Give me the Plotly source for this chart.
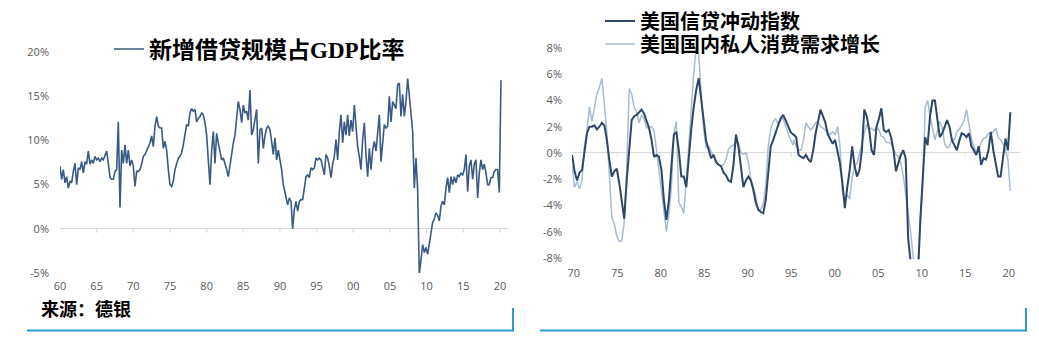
import numpy as np
import plotly.graph_objects as go

# ---------------- data: left chart (new credit / GDP, %) ----------------
credit_vals_a = [7.1, 5.6, 6.7, 5.2, 5.9, 4.6, 5.4, 5.2, 6.5, 7.4,
                 5.0, 6.9, 6.7, 7.6, 6.3, 7.6, 7.3, 8.8, 7.3, 7.8,
                 7.4, 8.2, 7.8, 8.0, 7.6, 8.0, 7.8, 8.2, 8.8, 7.4,
                 5.8, 5.6, 5.6, 6.5, 6.7, 12.1, 2.4, 8.9, 7.4, 9.5,
                 7.4, 8.9, 7.1, 7.8, 7.1, 4.8, 6.5, 6.5, 6.7, 7.3,
                 8.2, 8.4, 8.8, 9.1, 9.7, 10.5, 9.3, 11.6, 12.7, 11.6,
                 11.4, 11.4, 9.1, 9.9, 8.9, 6.7, 5.0, 4.8, 5.4, 6.7,
                 7.4, 8.0, 8.2, 8.6, 9.5, 10.8, 11.8, 11.6, 13.1, 13.6,
                 13.3, 13.5, 12.1, 12.5, 12.7, 13.1, 12.9, 12.0, 10.6, 7.8,
                 5.0, 8.8, 11.0, 7.4, 10.8, 9.7, 8.9, 7.8, 8.0, 7.4,
                 6.7, 5.9, 7.3, 8.2, 9.7, 10.6, 12.3, 14.4, 13.5, 12.0,
                 14.0, 13.1, 13.3, 12.3, 15.7, 10.6, 11.2, 12.3, 13.5, 7.4,
                 11.2, 11.4, 9.1, 10.5, 11.4, 11.6, 11.2, 9.9, 8.4, 10.3,
                 7.8, 8.9, 8.0, 6.7, 5.0]
credit_vals_b = [2.7, 3.5, 3.1, 0.0, 2.2, 3.1, 2.0, 3.1, 3.3, 3.3,
                 4.4, 5.9, 6.1, 5.8, 6.9, 6.7, 6.9, 8.0, 7.8, 8.0,
                 7.8, 7.1, 6.1, 8.4, 8.0, 7.1, 5.8, 7.3, 8.2, 10.1,
                 7.8, 11.0, 12.9, 9.7, 12.1, 10.6, 12.9, 10.5, 12.3, 11.0,
                 14.0, 11.6, 9.3, 8.2, 6.7, 10.1, 12.0, 8.4, 5.9, 9.1,
                 6.7, 8.9, 9.9, 8.8, 10.8, 12.9, 7.6, 9.9, 11.8, 11.4,
                 11.6, 15.0, 12.1, 14.4, 14.0, 13.6, 16.3, 16.5, 12.7, 15.2,
                 12.7, 14.4, 17.0, 14.6, 13.1, 11.0, 4.6, 8.0, 4.4, -5.2,
                 -3.1, -1.8, -2.7, -2.1, -2.9, -1.4, -0.5, 0.7, 1.1, 1.8,
                 1.5, 0.9, 2.6, 3.1, 2.7, 4.6, 5.8, 4.1, 5.9, 5.0,
                 5.9, 5.2, 6.1, 5.9, 6.3, 6.1, 6.7, 8.4, 4.2, 7.1,
                 7.8, 5.6, 7.3, 7.8, 3.5, 6.3, 7.8, 6.7, 7.3, 6.3,
                 5.0, 5.0, 5.8, 5.8, 6.5, 6.7, 6.7, 4.1, 16.8]
credit_years = (list(1960 + np.arange(len(credit_vals_a)) * 5 / 22)
                + list(1991.05 + np.arange(len(credit_vals_b)) * 5 / 22))
credit_vals = credit_vals_a + credit_vals_b

left_tickvals = [1960, 1965, 1970, 1975, 1980, 1985, 1990, 1995, 2000, 2005, 2010, 2015, 2020]
left_ticktext = ["60", "65", "70", "75", "80", "85", "90", "95", "00", "05", "10", "15", "20"]
left_ytickvals = [-5, 0, 5, 10, 15, 20]
left_yticktext = ["-5%", "0%", "5%", "10%", "15%", "20%"]

# ---------------- data: right chart (%, credit impulse vs consumption) ----------------
impulse_a = [-0.15, -1.4, -2.1, -1.5, -1.3, 0.2, 1.5, 2.0, 2.0, 2.1,
             1.8, 2.0, 2.3, 2.1, 1.0, -0.5, -1.8, -1.4, -1.2, -2.3,
             -3.8, -5.0, -2.1, 0.5, 2.5, 2.8, 2.9, 3.1, 3.3, 3.0,
             2.4, 1.9, 1.0, -0.3, -0.15, -0.3, -1.3, -3.6, -5.1, -3.6,
             -1.0, 1.4, 1.6, 0.2, -1.8, -1.8, -2.6, -0.3, 1.8, 3.5,
             4.8, 5.7, 4.3, 2.5, 0.9, 0.2, -0.4, -0.15, -0.7, -0.9,
             -1.0, -1.5, -1.7, -2.1, -2.2, -0.9, 1.4, 0.5, -1.0, -2.6,
             -2.1, -1.8, -2.1, -2.8, -3.8, -4.3, -4.5, -4.6, -3.6, -1.5,
             0.5, 1.0, 1.6, 2.1, 2.6, 2.9, 2.5, 2.1, 1.6, 1.4]
impulse_b = [1.4, 1.2, -0.15, -0.3, -0.4, -0.15, -0.5, -0.7, 0.2, 1.5,
             2.4, 3.3, 2.8, 2.3, 1.4, 1.0, 0.7, 1.0, 0.2, -0.8,
             -2.3, -4.2, -2.6, -1.3, 0.5, -1.0, -1.8, -1.3, 0.2, 3.3,
             2.8, 1.75, 0.2, -0.15, 2.0, 2.6, 3.4, 1.75, 1.6, 1.75,
             1.2, 0.2, -1.4, -0.7, -0.15, 0.2, -0.4, -6.5, -9.0, -10.0,
             -10.0, -9.5, -5.1, -1.8, 1.2, 0.6, 2.8, 4.0, 4.0, 2.6,
             1.2, 1.5, 2.0, 2.5, 2.0, 1.0, 0.6, 0.2, 0.9, 1.5,
             1.4, 1.2, 1.5, 0.5, 0.2, -0.15, 0.5, -0.9, -0.4, -0.5,
             0.2, 1.6, 0.2, -0.8, -1.8, -1.8, -0.5, 1.1, 0.2, 3.1]
consumption_a = [-0.9, -2.6, -2.2, -2.7, -2.1, 0.5, 1.75, 3.5, 2.4, 3.6,
                 4.5, 5.0, 5.7, 3.7, 1.6, -1.6, -4.9, -5.4, -6.3, -6.75,
                 -6.7, -5.3, -1.2, 4.9, 4.5, 3.5, 3.1, 2.3, 2.9, 2.6,
                 1.9, 2.0, 2.0, 1.75, 0.2, -1.5, -2.8, -4.6, -6.0, -4.6,
                 -2.6, 1.5, 2.4, -3.8, -4.1, -4.6, -2.3, 0.5, 3.3, 6.1,
                 8.0, 7.5, 4.6, 1.8, 0.4, 0.5, 0.1, -0.3, -0.6, -0.9,
                 -1.0, -0.9, -0.5, 0.3, 0.5, 0.6, 0.85, 0.7, 0.05, -0.1,
                 0.0, -0.7, -2.0, -2.6, -3.3, -4.4, -4.3, -3.9, -2.5, 0.5,
                 1.8, 2.4, 2.6, 2.2, 2.7, 2.6, 2.0, 1.5, 1.0, 0.6]
consumption_b = [1.0, 0.5, 0.2, 0.2, 1.0, 2.3, 2.0, 1.75, 2.0, 2.3,
                 2.4, 2.0, 1.9, 1.75, 1.6, 1.4, 1.6, 1.4, 2.0, 0.5,
                 -2.9, -3.6, -3.2, -3.5, -1.8, -1.0, -0.8, -0.15, 0.7, 1.5,
                 2.2, 1.75, 1.9, 1.7, 2.0, 1.75, 1.3, 1.2, 0.8, 0.8,
                 0.7, 0.3, -0.1, -0.3, -0.8, -1.7, -3.0, -4.5, -6.0, -7.8,
                 -9.0, -8.7, -6.0, -2.5, 3.5, 4.0, 2.8, 1.8, 1.0, 1.7,
                 2.4, 1.9, 0.7, 0.4, 0.5, 1.1, 1.0, 1.6, 1.8, 2.1,
                 2.5, 3.3, 2.2, 1.1, 0.5, 0.0, 0.2, 0.8, 1.1, 1.2,
                 1.5, 1.5, 1.6, 1.9, 1.2, 1.0, 0.7, 0.2, -0.5, -2.9]
right_years = (list(np.linspace(1969.81, 1995.21, len(impulse_a)))
               + list(np.linspace(1995.29, 2020.19, len(impulse_b))))
impulse = impulse_a + impulse_b
consumption = consumption_a + consumption_b

right_tickvals = [1970, 1975, 1980, 1985, 1990, 1995, 2000, 2005, 2010, 2015, 2020]
right_ticktext = ["70", "75", "80", "85", "90", "95", "00", "05", "10", "15", "20"]
right_ytickvals = [-8, -6, -4, -2, 0, 2, 4, 6, 8]
right_yticktext = ["-8%", "-6%", "-4%", "-2%", "0%", "2%", "4%", "6%", "8%"]

# ---------------- figure ----------------
W, H = 1039, 354
TICK_FONT = dict(family="Open Sans, Noto Sans, sans-serif", size=11, color="#595959")
LEGEND_FAMILY = "Liberation Serif, Noto Sans CJK SC"

fig = go.Figure()
fig.add_trace(go.Scatter(x=credit_years, y=credit_vals, mode="lines",
                         line=dict(color="#3a5a86", width=1.6),
                         name="新增借贷规模占GDP比率", xaxis="x", yaxis="y",
                         legend="legend"))
fig.add_trace(go.Scatter(x=right_years, y=consumption, mode="lines",
                         line=dict(color="#a7bbd2", width=1.5),
                         name="美国国内私人消费需求增长", xaxis="x2", yaxis="y2",
                         legend="legend3"))
fig.add_trace(go.Scatter(x=right_years, y=impulse, mode="lines",
                         line=dict(color="#2e4667", width=2),
                         name="美国信贷冲动指数", xaxis="x2", yaxis="y2",
                         legend="legend2"))

def px_x(p):
    return p / W

def px_y(p):
    return (H - p) / H

axis_common = dict(showgrid=False, showline=False, ticks="", tickfont=TICK_FONT,
                   fixedrange=True, automargin=False)

def legend_at(x_px, y_px, size, weight="bold"):
    return dict(x=px_x(x_px), y=px_y(y_px), xanchor="left", yanchor="middle",
                font=dict(family=LEGEND_FAMILY, size=size, color="black", weight=weight),
                bgcolor="rgba(0,0,0,0)", borderwidth=0)

fig.update_layout(
    template="none",
    width=W, height=H,
    margin=dict(l=0, r=0, t=0, b=0, pad=0, autoexpand=False),
    paper_bgcolor="white", plot_bgcolor="white",
    xaxis=dict(domain=[px_x(60), px_x(508)], range=[1960, 2021.1], anchor="y",
               tickvals=left_tickvals, ticktext=left_ticktext, zeroline=False,
               ticklabelstandoff=5, **axis_common),
    yaxis=dict(domain=[px_y(273), px_y(52)], range=[-5, 20], anchor="x",
               tickvals=left_ytickvals, ticktext=left_yticktext,
               zeroline=True, zerolinecolor="#d9d9d9", zerolinewidth=1,
               ticklabelstandoff=10, **axis_common),
    xaxis2=dict(domain=[px_x(572), px_x(1020)], range=[1969.8, 2021.3], anchor="y2",
                tickvals=right_tickvals, ticktext=right_ticktext, zeroline=False,
                ticklabelstandoff=6, **axis_common),
    yaxis2=dict(domain=[px_y(259.3), px_y(44)], range=[-8.1, 8.3], anchor="x2",
                tickvals=right_ytickvals, ticktext=right_yticktext,
                zeroline=True, zerolinecolor="#d9d9d9", zerolinewidth=1,
                ticklabelstandoff=9, **axis_common),
    legend=legend_at(109, 49, 23),
    legend2=legend_at(600, 21, 20),
    legend3=legend_at(600, 44, 20),
    showlegend=True,
)

shapes = []
# tick marks on the zero lines
for v in left_tickvals:
    shapes.append(dict(type="line", xref="x", yref="y", x0=v, x1=v,
                       ysizemode="pixel", yanchor=0, y0=0, y1=-4,
                       line=dict(color="#d9d9d9", width=1)))
for v in right_tickvals:
    shapes.append(dict(type="line", xref="x2", yref="y2", x0=v, x1=v,
                       ysizemode="pixel", yanchor=0, y0=0, y1=-4,
                       line=dict(color="#e3e3e3", width=1)))
# blue frame strokes at the bottom of each panel
BLUE = "#2f9ccf"
for (xa, xb) in [(27, 513), (540, 1026)]:
    shapes.append(dict(type="line", xref="paper", yref="paper",
                       x0=px_x(xa), x1=px_x(xb), y0=px_y(330.5), y1=px_y(330.5),
                       line=dict(color=BLUE, width=2)))
    shapes.append(dict(type="line", xref="paper", yref="paper",
                       x0=px_x(xb), x1=px_x(xb), y0=px_y(308), y1=px_y(331.5),
                       line=dict(color=BLUE, width=2)))
fig.update_layout(shapes=shapes)

fig.add_annotation(x=px_x(39), y=px_y(308), xref="paper", yref="paper",
                   xanchor="left", yanchor="middle", showarrow=False,
                   text="<b>来源：德银</b>",
                   font=dict(family="Noto Sans CJK SC", size=18, color="black"))

fig.write_html("out.html", config={"displayModeBar": False})
